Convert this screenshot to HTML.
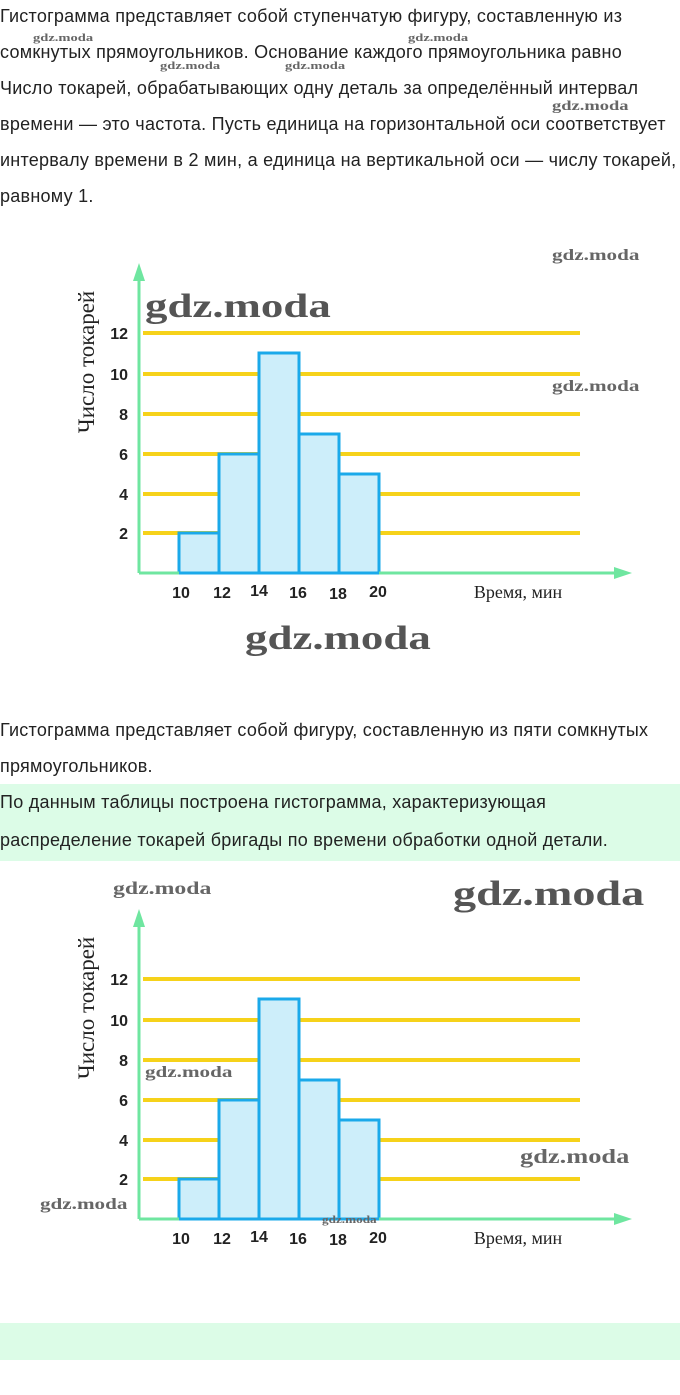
<!DOCTYPE html>
<html><head><meta charset="utf-8"><style>
body{margin:0;width:680px;height:1395px;background:#fff;position:relative;overflow:hidden;font-family:"Liberation Sans","DejaVu Sans",sans-serif;color:#222}
.t{position:absolute;left:0;font-size:18px;white-space:nowrap;letter-spacing:0.25px}
.g{position:absolute;left:0;width:680px;background:#dcfce7}
svg{position:absolute;left:0}
.wm{position:absolute;font-family:"Liberation Serif",serif;font-weight:bold;color:#666;white-space:nowrap;transform:scaleX(1.32);transform-origin:left top}
</style></head><body>
<div class="t" style="top:6px">Гистограмма представляет собой ступенчатую фигуру, составленную из</div>
<div class="t" style="top:42px">сомкнутых прямоугольников. Основание каждого прямоугольника равно</div>
<div class="t" style="top:78px">Число токарей, обрабатывающих одну деталь за определённый интервал</div>
<div class="t" style="top:114px">времени — это частота. Пусть единица на горизонтальной оси соответствует</div>
<div class="t" style="top:150px">интервалу времени в 2 мин, а единица на вертикальной оси — числу токарей,</div>
<div class="t" style="top:186px">равному 1.</div>
<div class="wm" style="left:33px;top:32px;font-size:11px">gdz.moda</div>
<div class="wm" style="left:408px;top:32px;font-size:11px">gdz.moda</div>
<div class="wm" style="left:160px;top:60px;font-size:11px">gdz.moda</div>
<div class="wm" style="left:285px;top:60px;font-size:11px">gdz.moda</div>
<div class="wm" style="left:552px;top:99px;font-size:14px">gdz.moda</div>

<div class="t" style="top:720px">Гистограмма представляет собой фигуру, составленную из пяти сомкнутых</div>
<div class="t" style="top:756px">прямоугольников.</div>
<div class="g" style="top:784px;height:77px"></div>
<div class="t" style="top:792px">По данным таблицы построена гистограмма, характеризующая</div>
<div class="t" style="top:830px">распределение токарей бригады по времени обработки одной детали.</div>
<div class="g" style="top:1323px;height:37px"></div>

<svg id="c1" style="top:0" width="680" height="700"></svg>
<svg id="c2" style="top:646px" width="680" height="700"></svg>
<script>
function draw(id){
 var s='';
 var ys=[333,374,414,454,494,533],lab=[12,10,8,6,4,2];
 for(var i=0;i<6;i++){s+='<line x1="143" y1="'+ys[i]+'" x2="580" y2="'+ys[i]+'" stroke="#f6d21a" stroke-width="4"/>';
  s+='<text x="128" y="'+(ys[i]+6)+'" font-size="16" font-weight="bold" text-anchor="end" fill="#222" font-family="Liberation Sans">'+lab[i]+'</text>';}
 var xs=[179,219,259,299,339],h=[533,454,353,434,474];
 for(var i=0;i<5;i++)s+='<rect x="'+xs[i]+'" y="'+h[i]+'" width="40" height="'+(573-h[i])+'" fill="#cdeefa" stroke="#1aa9ea" stroke-width="3"/>';
 s+='<line x1="139" y1="573" x2="620" y2="573" stroke="#6fe6a0" stroke-width="3"/><polygon points="632,573 614,567 614,579" fill="#6fe6a0"/>';
 s+='<line x1="139" y1="573" x2="139" y2="276" stroke="#6fe6a0" stroke-width="3"/><polygon points="139,263 133,281 145,281" fill="#6fe6a0"/>';
 s+='<line x1="179" y1="573" x2="379" y2="573" stroke="#1aa9ea" stroke-width="3"/>';
 var tl=[10,12,14,16,18,20],tx=[181,222,259,298,338,378],ty=[598,598,596,598,599,597];
 for(var i=0;i<6;i++)s+='<text x="'+tx[i]+'" y="'+ty[i]+'" font-size="16" font-weight="bold" text-anchor="middle" fill="#222" font-family="Liberation Sans">'+tl[i]+'</text>';
 s+='<text x="518" y="598" font-size="18" text-anchor="middle" fill="#222" font-family="Liberation Serif">Время, мин</text>';
 s+='<text transform="translate(94,362) rotate(-90)" font-size="23" text-anchor="middle" fill="#222" font-family="Liberation Serif">Число токарей</text>';
 document.getElementById(id).innerHTML=s;
}
draw('c1');draw('c2');
</script>
<div class="wm" style="left:145px;top:288px;font-size:34px;color:#555">gdz.moda</div>
<div class="wm" style="left:552px;top:247px;font-size:16px">gdz.moda</div>
<div class="wm" style="left:552px;top:378px;font-size:16px">gdz.moda</div>
<div class="wm" style="left:245px;top:620px;font-size:34px;color:#555">gdz.moda</div>
<div class="wm" style="left:113px;top:878px;font-size:18px">gdz.moda</div>
<div class="wm" style="left:453px;top:874px;font-size:35px;color:#555">gdz.moda</div>
<div class="wm" style="left:145px;top:1064px;font-size:16px">gdz.moda</div>
<div class="wm" style="left:520px;top:1146px;font-size:20px">gdz.moda</div>
<div class="wm" style="left:40px;top:1196px;font-size:16px">gdz.moda</div>
<div class="wm" style="left:322px;top:1215px;font-size:10px">gdz.moda</div>
</body></html>
